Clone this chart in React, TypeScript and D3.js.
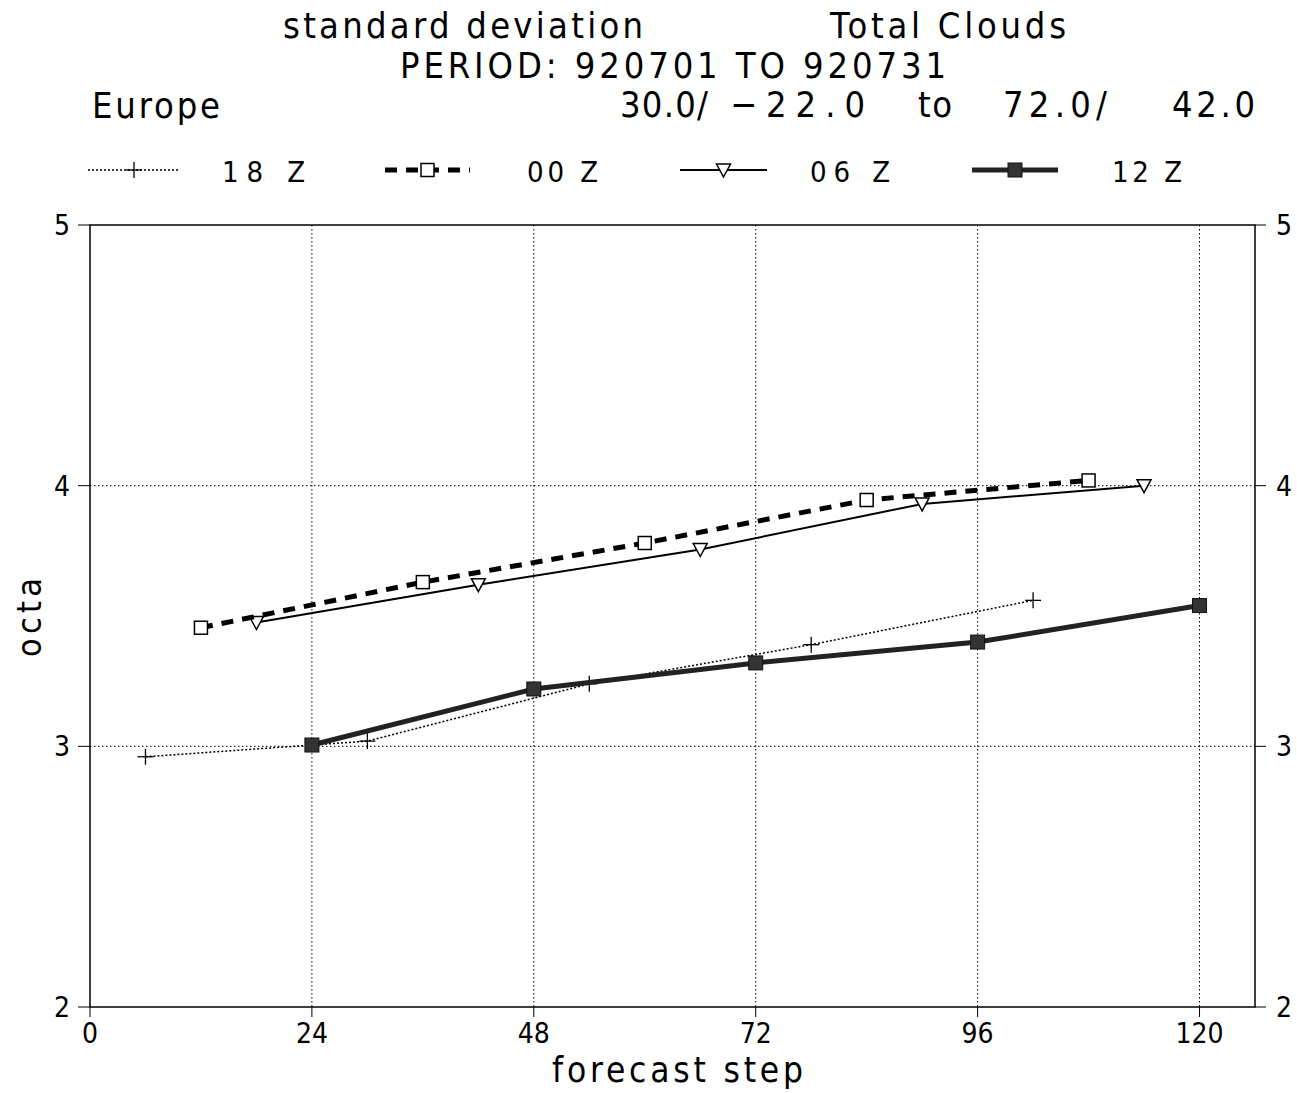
import React from "react";
import * as d3 from "d3";

const steps18 = [6, 30, 54, 78, 102];
const vals18 = [2.96, 3.02, 3.24, 3.39, 3.56];
const steps00 = [12, 36, 60, 84, 108];
const vals00 = [3.455, 3.63, 3.78, 3.945, 4.02];
const steps06 = [18, 42, 66, 90, 114];
const vals06 = [3.475, 3.62, 3.755, 3.93, 4.0];
const steps12 = [24, 48, 72, 96, 120];
const vals12 = [3.005, 3.22, 3.32, 3.4, 3.54];
const xTicks = [0, 24, 48, 72, 96, 120];
const yTicks = [2, 3, 4, 5];
const gridX = [24, 48, 72, 96, 120];
const gridY = [3, 4];

const FONT = "'DejaVu Sans Condensed', 'DejaVu Sans', sans-serif";

type T = { s: string; x: number; y: number; w: number; fs: number };
const titleTexts: T[] = [
  { s: "standard deviation", x: 283, y: 38, w: 360, fs: 36 },
  { s: "Total Clouds", x: 830, y: 38, w: 236, fs: 36 },
  { s: "PERIOD: 920701 TO 920731", x: 400, y: 78, w: 546, fs: 36 },
  { s: "Europe", x: 92, y: 118, w: 128, fs: 36 },
  { s: "30.0/", x: 620, y: 117, w: 88, fs: 36 },
  { s: "−22.0", x: 730, y: 117, w: 135, fs: 36 },
  { s: "to", x: 918, y: 117, w: 34, fs: 36 },
  { s: "72.0/", x: 1003, y: 117, w: 104, fs: 36 },
  { s: "42.0", x: 1172, y: 117, w: 83, fs: 36 },
];

export default function App() {
  const L = 90, R = 1255, Tp = 225, B = 1007;
  const x = d3.scaleLinear().domain([0, 126]).range([L, R]);
  const y = d3.scaleLinear().domain([2, 5]).range([B, Tp]);
  const line = d3.line<[number, number]>().x((d) => x(d[0])).y((d) => y(d[1]));
  const pts = (s: number[], v: number[]) => s.map((d, i) => [d, v[i]] as [number, number]);

  const plus = (cx: number, cy: number, k: string) => (
    <g key={k} stroke="#000" strokeWidth={1.3}>
      <line x1={cx - 8} x2={cx + 8} y1={cy} y2={cy} />
      <line x1={cx} x2={cx} y1={cy - 8} y2={cy + 8} />
    </g>
  );
  const openSq = (cx: number, cy: number, k: string) => (
    <rect key={k} x={cx - 6.5} y={cy - 6.5} width={13} height={13} fill="#fff" stroke="#000" strokeWidth={1.5} />
  );
  const tri = (cx: number, cy: number, k: string) => (
    <path key={k} d={`M${cx - 7},${cy - 6} L${cx + 7},${cy - 6} L${cx},${cy + 7} Z`} fill="#fff" stroke="#000" strokeWidth={1.5} />
  );
  const fillSq = (cx: number, cy: number, k: string) => (
    <rect key={k} x={cx - 7} y={cy - 7} width={14} height={14} fill="#333" stroke="#111" strokeWidth={1} />
  );

  const legend = [
    { x1: 88, x2: 180, lx: 222, w: 83, label: "18 Z", sw: 1.5, dash: "2,2", color: "#000", mk: plus },
    { x1: 385, x2: 470, lx: 527, w: 71, label: "00 Z", sw: 5, dash: "12,9", color: "#000", mk: openSq },
    { x1: 680, x2: 767, lx: 810, w: 80, label: "06 Z", sw: 2, dash: "", color: "#000", mk: tri },
    { x1: 972, x2: 1058, lx: 1112, w: 70, label: "12 Z", sw: 5, dash: "", color: "#222", mk: fillSq },
  ];

  return (
    <div style={{ position: "absolute", left: 0, top: 0 }}>
      <svg width={1297} height={1093} style={{ display: "block", background: "#fff" }} fontFamily={FONT}>
        {titleTexts.map((t, i) => (
          <text key={"t" + i} x={t.x} y={t.y} fontSize={t.fs} textLength={t.w} lengthAdjust="spacing">{t.s}</text>
        ))}

        {/* legend */}
        {legend.map((l, i) => (
          <g key={i}>
            <line x1={l.x1} x2={l.x2} y1={170} y2={170} stroke={l.color} strokeWidth={l.sw} strokeDasharray={l.dash || undefined} />
            {l.mk((l.x1 + l.x2) / 2, 170, "m" + i)}
            <text x={l.lx} y={182} fontSize={29} textLength={l.w} lengthAdjust="spacing">{l.label}</text>
          </g>
        ))}

        {/* grid */}
        {gridX.map((g) => (
          <line key={"gx" + g} x1={x(g)} x2={x(g)} y1={Tp} y2={B} stroke="#000" strokeWidth={1} strokeDasharray="1.5,2.5" />
        ))}
        {gridY.map((g) => (
          <line key={"gy" + g} x1={L} x2={R} y1={y(g)} y2={y(g)} stroke="#000" strokeWidth={1} strokeDasharray="1.5,2.5" />
        ))}

        {/* frame */}
        <rect x={L} y={Tp} width={R - L} height={B - Tp} fill="none" stroke="#000" strokeWidth={1.5} />

        {/* ticks */}
        {xTicks.map((t) => (
          <g key={"xt" + t}>
            <line x1={x(t)} x2={x(t)} y1={B} y2={B + 10} stroke="#000" strokeWidth={1} />
            <text x={x(t)} y={1043} fontSize={28} textAnchor="middle">{t}</text>
          </g>
        ))}
        {yTicks.map((t) => (
          <g key={"yt" + t}>
            <line x1={L - 12} x2={L} y1={y(t)} y2={y(t)} stroke="#000" strokeWidth={1} />
            <line x1={R} x2={R + 11} y1={y(t)} y2={y(t)} stroke="#000" strokeWidth={1} />
            <text x={70} y={y(t) + 10} fontSize={28} textAnchor="end">{t}</text>
            <text x={1276} y={y(t) + 10} fontSize={28} textAnchor="start">{t}</text>
          </g>
        ))}

        {/* axis titles */}
        <text x={552} y={1082} fontSize={35} textLength={251} lengthAdjust="spacing">forecast step</text>
        <text transform={`translate(41,657) rotate(-90)`} fontSize={34} textLength={79} lengthAdjust="spacing">octa</text>

        {/* series */}
        <path d={line(pts(steps18, vals18)) || ""} fill="none" stroke="#000" strokeWidth={1.5} strokeDasharray="2,2" />
        {steps18.map((s, i) => plus(x(s), y(vals18[i]), "p18" + i))}

        <path d={line(pts(steps06, vals06)) || ""} fill="none" stroke="#000" strokeWidth={2} />
        {steps06.map((s, i) => tri(x(s), y(vals06[i]), "p06" + i))}

        <path d={line(pts(steps00, vals00)) || ""} fill="none" stroke="#000" strokeWidth={5} strokeDasharray="12,9" />
        {steps00.map((s, i) => openSq(x(s), y(vals00[i]), "p00" + i))}

        <path d={line(pts(steps12, vals12)) || ""} fill="none" stroke="#222" strokeWidth={5} />
        {steps12.map((s, i) => fillSq(x(s), y(vals12[i]), "p12" + i))}
      </svg>
    </div>
  );
}
